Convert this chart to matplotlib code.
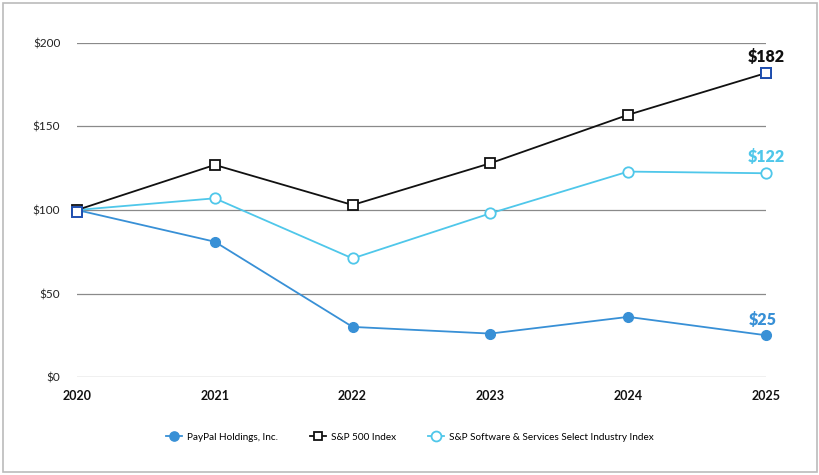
import matplotlib
matplotlib.use("Agg")
import matplotlib.pyplot as plt
from matplotlib.patches import Rectangle

plt.rcParams['font.family'] = ['Lato', 'DejaVu Sans']

years = [2020, 2021, 2022, 2023, 2024, 2025]
paypal = [100, 81, 30, 26, 36, 25]
sp500 = [100, 127, 103, 128, 157, 182]
software = [100, 107, 71, 98, 123, 122]
yticks = [0, 50, 100, 150, 200]
ytick_labels = ['$0', '$50', '$100', '$150', '$200']

c_pp = '#3890d6'
c_sp = '#111111'
c_sw = '#4fc7ea'
c_end = '#1f4fb0'

fig = plt.figure(figsize=(8.2, 4.75), dpi=100)
ax = fig.add_axes([0.0939, 0.2063, 0.8402, 0.7032])

# outer frame
fig.patches.append(Rectangle((0.004, 0.006), 0.992, 0.988, transform=fig.transFigure,
                             fill=False, edgecolor='#bbbbbb', linewidth=1.2))

for y in yticks:
    ax.axhline(y, color='#8a8a8a', linewidth=0.9, zorder=0)

ax.plot(years, software, color=c_sw, linewidth=1.3, marker='o', markersize=7.5,
        markerfacecolor='white', markeredgecolor=c_sw, markeredgewidth=1.3,
        clip_on=False, zorder=3, label='S&P Software & Services Select Industry Index')
ax.plot(years, paypal, color=c_pp, linewidth=1.3, marker='o', markersize=7,
        markerfacecolor=c_pp, markeredgecolor=c_pp,
        clip_on=False, zorder=4, label='PayPal Holdings, Inc.')
ax.plot(years, sp500, color=c_sp, linewidth=1.3, marker='s', markersize=6.5,
        markerfacecolor='white', markeredgecolor=c_sp, markeredgewidth=1.3,
        clip_on=False, zorder=5, label='S&P 500 Index')
# first/last S&P markers drawn with a blue edge
ax.plot([years[0], years[-1]], [sp500[0] - 1, sp500[-1]], linestyle='none', marker='s',
        markersize=6.5, markerfacecolor='white', markeredgecolor=c_end,
        markeredgewidth=1.4, clip_on=False, zorder=6)

ax.annotate('$%d' % sp500[-1], (years[-1], sp500[-1]), xytext=(0, 6),
            textcoords='offset points', ha='center', va='bottom',
            fontsize=11.5, fontweight='heavy', color=c_sp)
ax.annotate('$%d' % software[-1], (years[-1], software[-1]), xytext=(0, 6),
            textcoords='offset points', ha='center', va='bottom',
            fontsize=11.5, fontweight='heavy', color=c_sw)
ax.annotate('$%d' % paypal[-1], (years[-1], paypal[-1]), xytext=(-2, 5),
            textcoords='offset points', ha='center', va='bottom',
            fontsize=11.5, fontweight='heavy', color=c_pp)

ax.set_xlim(2020, 2025)
ax.set_ylim(0, 200)
ax.set_yticks(yticks)
ax.set_yticklabels(ytick_labels, fontsize=8.5, color='#222222')
ax.set_xticks(years)
ax.set_xticklabels([str(y) for y in years], fontsize=9, fontweight='bold', color='#111111')
ax.tick_params(axis='y', length=0, pad=12)
ax.tick_params(axis='x', length=0, pad=9)
for s in ax.spines.values():
    s.set_visible(False)

h, l = ax.get_legend_handles_labels()
order = [1, 2, 0]
fig.legend([h[i] for i in order], [l[i] for i in order], loc='center',
           bbox_to_anchor=(0.5, 0.08), ncol=3, frameon=False, fontsize=7.2,
           handlelength=1.6, columnspacing=3.2, handletextpad=0.5, markerscale=0.95)

fig.savefig('out.png', dpi=100)
